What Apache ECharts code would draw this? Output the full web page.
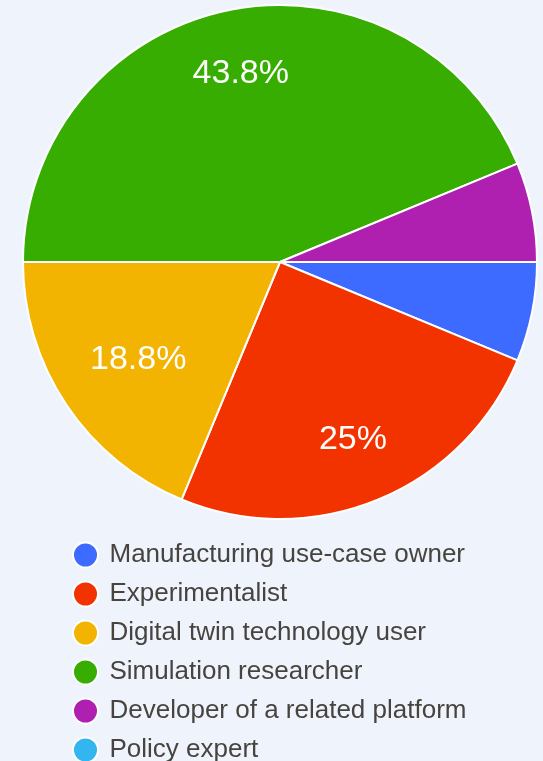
<!DOCTYPE html>
<html>
<head>
<meta charset="utf-8">
<script src="https://cdn.jsdelivr.net/npm/echarts@6/dist/echarts.min.js"></script>
<style>
html,body{margin:0;padding:0;background:#eff4fc;}
#chart{width:543px;height:761px;}
</style>
</head>
<body>
<div id="chart"></div>
<script>
const categories = ["Manufacturing use-case owner","Experimentalist","Digital twin technology user","Simulation researcher","Developer of a related platform","Policy expert"];
const counts = [1, 4, 3, 7, 1, 0];
const colors = ["#3d6aff","#f23300","#f2b400","#36ad00","#b020b0","#33b5f0"];

const total = counts.reduce((a,b)=>a+b,0);
const pct = v => { const p = Math.round(v/total*1000)/10; return (p % 1 === 0 ? p.toFixed(0) : p.toFixed(1)) + '%'; };
const labelOffsets = {1:[-2,-3], 2:[21,-11], 3:[-1,4]};

const chart = echarts.init(document.getElementById('chart'), null, {renderer:'canvas'});
const baseData = categories.map((c,i)=>({name:c, value:counts[i], itemStyle:{color:colors[i]}}));
const labelData = categories.map((c,i)=>{
  const show = counts[i]/total >= 0.1;
  const item = {name:c, value:counts[i], label:{show:show}};
  if (labelOffsets[i]) item.label.offset = labelOffsets[i];
  return item;
});
chart.setOption({
  backgroundColor:'#eff4fc',
  animation:false,
  legend:{
    orient:'vertical', left:72, top:541, height:240, padding:0,
    icon:'circle', itemWidth:38, itemHeight:25, itemGap:11,
    textStyle:{fontSize:26, lineHeight:28, color:'#474440', fontFamily:'Liberation Sans, Arial, sans-serif'},
    data:categories
  },
  series:[
    {
      type:'pie', center:[280,262], radius:[0,257],
      startAngle:0, clockwise:true, silent:true,
      itemStyle:{borderColor:'#ffffff', borderWidth:2},
      label:{show:false}, labelLine:{show:false},
      data:baseData
    },
    {
      type:'pie', center:[280,262], radius:[128.5,257],
      startAngle:0, clockwise:true, silent:true,
      itemStyle:{color:'rgba(0,0,0,0)', borderWidth:0},
      label:{show:true, position:'inside', color:'#fff', fontSize:34,
             fontFamily:'Liberation Sans, Arial, sans-serif',
             formatter:p=>pct(p.value)},
      labelLine:{show:false},
      legendHoverLink:false,
      data:labelData
    }
  ]
});
</script>
</body>
</html>
